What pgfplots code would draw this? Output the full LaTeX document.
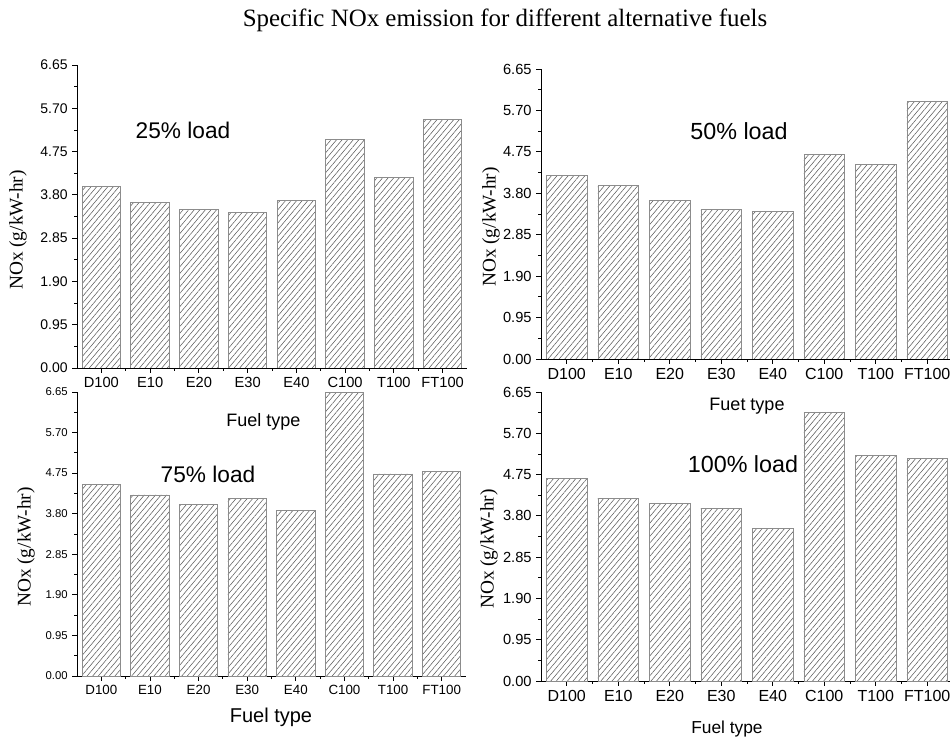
\documentclass[border=0pt]{standalone}
\usepackage{fontspec}
\setmainfont{Liberation Serif}
\setsansfont{Liberation Sans}
\usepackage{pgfplots}
\pgfplotsset{compat=1.18}
\usetikzlibrary{patterns.meta}

\pgfplotsset{
  panel/.style={
    scale only axis, anchor=south west,
    axis x line*=bottom, axis y line*=left,
    axis line style={line width=0.6pt, -},
    ymin=0, ymax=6.65, xmin=-0.5, xmax=7.5,
    ytick={0,0.95,1.9,2.85,3.8,4.75,5.7,6.65},
    yticklabels={0.00,0.95,1.90,2.85,3.80,4.75,5.70,6.65},
    minor ytick={0.475,1.425,2.375,3.325,4.275,5.225,6.175},
    xtick={0,...,7},
    xticklabels={D100,E10,E20,E30,E40,C100,T100,FT100},
    minor xtick={0.5,1.5,2.5,3.5,4.5,5.5,6.5},
    tick align=outside,
    major tick length=3.5pt, minor tick length=2pt,
    tick style={black, line width=0.6pt},
    ybar, bar width=0.79,
  },
  hatch/.style={draw=black!45, line width=0.6pt,
    pattern={Lines[angle=50,distance=3.2pt,line width=0.4pt]}, pattern color=black!65},
}

\begin{document}
\begin{tikzpicture}
\useasboundingbox (0,0) rectangle (712.5pt,555pt);

% Panel 1: 25% load
\begin{axis}[panel, at={(57.75pt,279pt)}, width=292.5pt, height=227.25pt,
  yticklabel style={font=\sffamily\fontsize{10.5}{12}\selectfont},
  xticklabel style={font=\sffamily\fontsize{11}{13}\selectfont}]
\addplot[hatch] coordinates {(0,3.98) (1,3.63) (2,3.47) (3,3.42) (4,3.68) (5,5.02) (6,4.18) (7,5.45)};
\end{axis}

% Panel 2: 50% load
\begin{axis}[panel, at={(405.75pt,285.75pt)}, width=309pt, height=217.5pt,
  yticklabel style={font=\sffamily\fontsize{11}{13}\selectfont},
  xticklabel style={font=\sffamily\fontsize{12}{14}\selectfont}]
\addplot[hatch] coordinates {(0,4.21) (1,3.98) (2,3.64) (3,3.42) (4,3.39) (5,4.69) (6,4.46) (7,5.90)};
\end{axis}

% Panel 3: 75% load
\begin{axis}[panel, at={(57.75pt,48pt)}, width=291.75pt, height=213pt,
  yticklabel style={font=\sffamily\fontsize{8.5}{10}\selectfont},
  xticklabel style={font=\sffamily\fontsize{10}{12}\selectfont}]
\addplot[hatch] coordinates {(0,4.48) (1,4.24) (2,4.01) (3,4.16) (4,3.87) (5,6.63) (6,4.73) (7,4.79)};
\end{axis}

% Panel 4: 100% load
\begin{axis}[panel, at={(405.75pt,44.25pt)}, width=309pt, height=216.75pt,
  yticklabel style={font=\sffamily\fontsize{11}{13}\selectfont},
  xticklabel style={font=\sffamily\fontsize{12}{14}\selectfont}]
\addplot[hatch] coordinates {(0,4.67) (1,4.21) (2,4.09) (3,3.98) (4,3.50) (5,6.17) (6,5.20) (7,5.13)};
\end{axis}

% Title
\node[font=\fontsize{18.7}{22}\selectfont] at (378.75pt,540pt) {Specific NOx emission for different alternative fuels};

% Y labels
\node[rotate=90, font=\fontsize{14.5}{17}\selectfont] at (13.5pt,382.5pt) {NOx (g/kW-hr)};
\node[rotate=90, font=\fontsize{14.5}{17}\selectfont] at (368.25pt,384.75pt) {NOx (g/kW-hr)};
\node[rotate=90, font=\fontsize{14.5}{17}\selectfont] at (19.5pt,144.75pt) {NOx (g/kW-hr)};
\node[rotate=90, font=\fontsize{14.5}{17}\selectfont] at (366.75pt,143.25pt) {NOx (g/kW-hr)};

% X labels
\node[font=\sffamily\fontsize{13.5}{16}\selectfont] at (197.6pt,238.5pt) {Fuel type};
\node[font=\sffamily\fontsize{13.5}{16}\selectfont] at (560.25pt,250.5pt) {Fuet type};
\node[font=\sffamily\fontsize{15}{18}\selectfont] at (203.25pt,17.25pt) {Fuel type};
\node[font=\sffamily\fontsize{13}{16}\selectfont] at (545.25pt,8.25pt) {Fuel type};

% Load labels
\node[font=\sffamily\fontsize{17}{20}\selectfont] at (137.25pt,457.5pt) {25\% load};
\node[font=\sffamily\fontsize{17.5}{20}\selectfont] at (554.25pt,456.75pt) {50\% load};
\node[font=\sffamily\fontsize{17}{20}\selectfont] at (156pt,199.5pt) {75\% load};
\node[font=\sffamily\fontsize{17.5}{20}\selectfont] at (557.25pt,207pt) {100\% load};
\end{tikzpicture}
\end{document}
